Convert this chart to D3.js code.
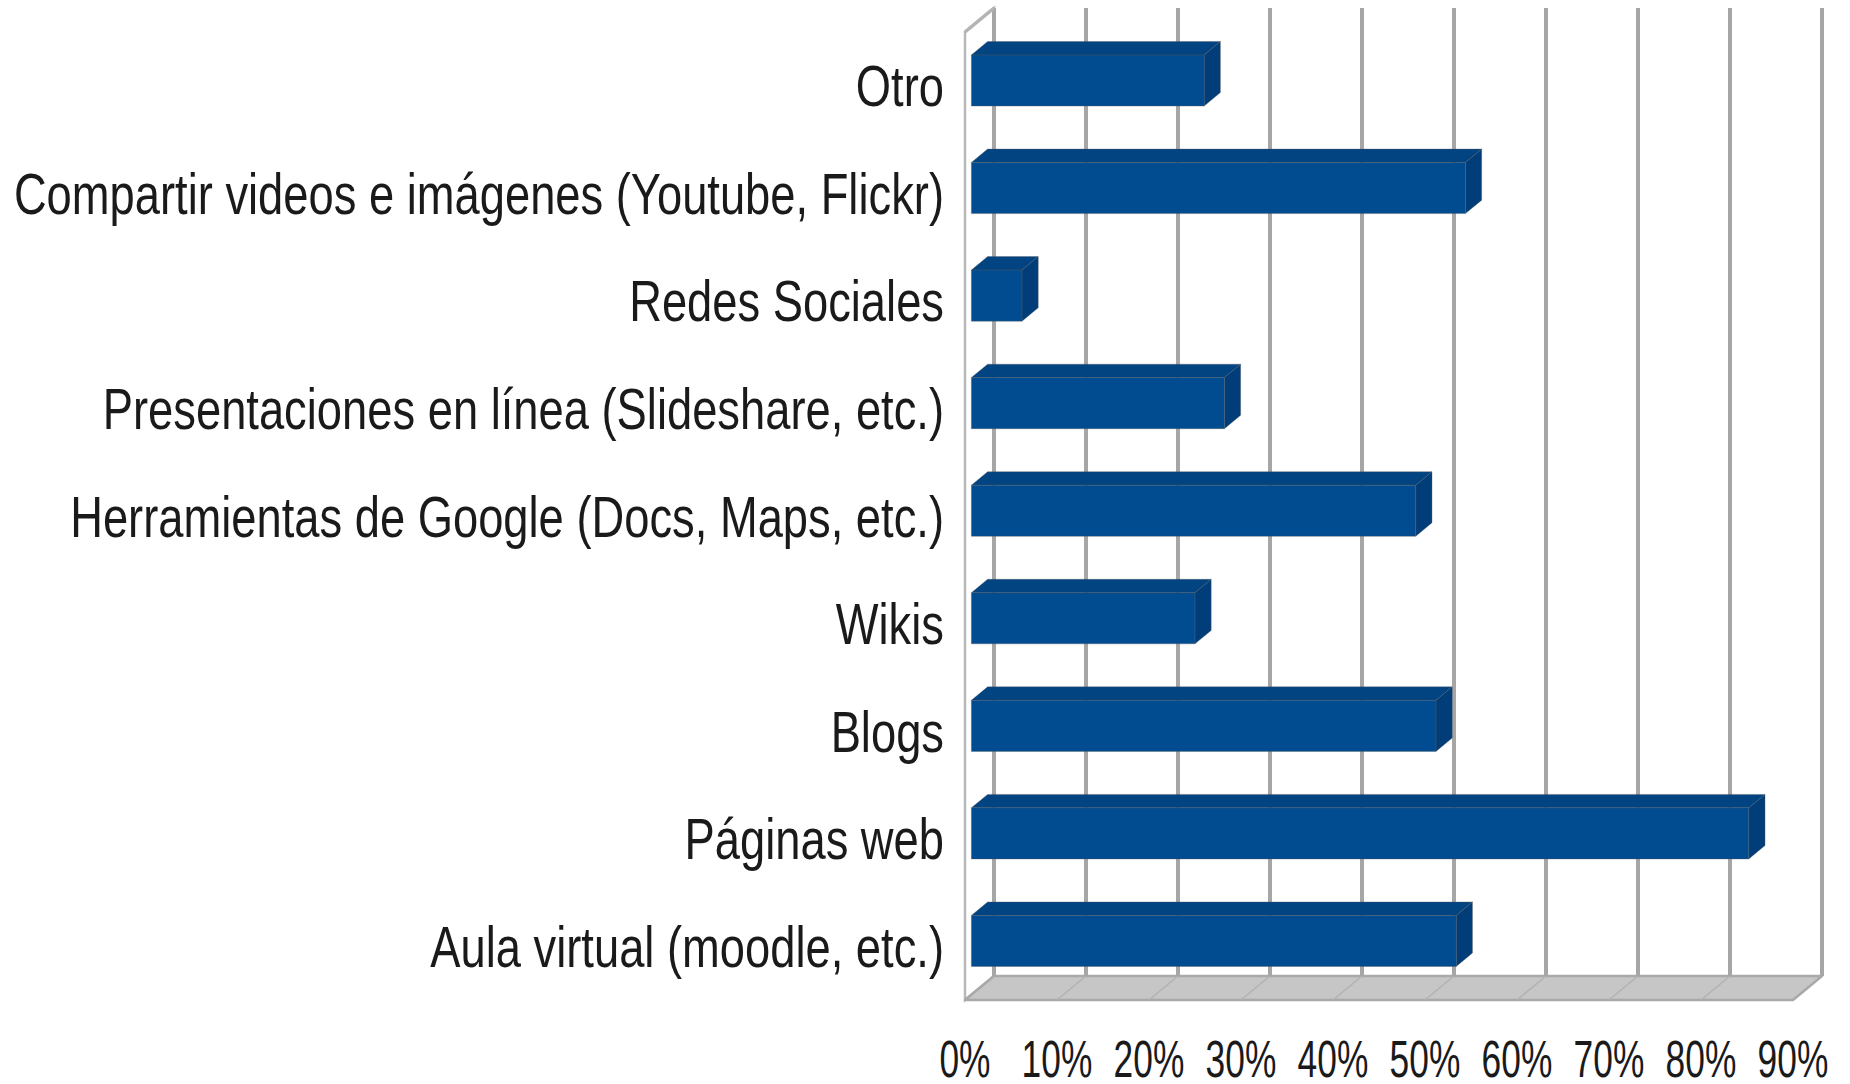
<!DOCTYPE html>
<meta charset="utf-8">
<title>Herramientas web</title>
<style>
body { margin: 0; background: #fff; }
svg { display: block; }
text { font-family: "Liberation Sans", Arial, sans-serif; fill: #1a1a1a; }
</style>
<body>
<svg></svg>
<script src="https://d3js.org/d3.v7.min.js"></script>
<script>

// categories from bottom to top, as in the original sheet
var categories = [
    "Aula virtual (moodle, etc.)",
    "Páginas web",
    "Blogs",
    "Wikis",
    "Herramientas de Google (Docs, Maps, etc.)",
    "Presentaciones en línea (Slideshare, etc.)",
    "Redes Sociales",
    "Compartir videos e imágenes (Youtube, Flickr)",
    "Otro"
];
var values = [0.527, 0.845, 0.505, 0.243, 0.483, 0.275, 0.055, 0.537, 0.253];
var tickValues = [0, 0.1, 0.2, 0.3, 0.4, 0.5, 0.6, 0.7, 0.8, 0.9];

var width = 1850,
    height = 1084;

var svg = d3.select("svg").attr("width", width).attr("height", height);

// front plane of the 3d box
var xLeft = 965, yTop = 32, yBot = 1000,
    DX = 29, DY = 24;   // depth offset

var x = d3.scaleLinear().domain([0, 0.9]).range([xLeft, xLeft + 828]);
var y = d3.scaleBand()
    .domain(categories.slice().reverse())
    .range([yTop, yBot])
    .paddingInner(0).paddingOuter(0);

function P(v, yy, z) {
    return [x(v) + z * DX, yy - z * DY];
}
function poly(pts) { return pts.map(p => p.join(",")).join(" "); }

// back wall + gridlines
var walls = svg.append("g");
walls.append("polygon")
    .attr("points", poly([P(0, yTop, 1), P(0.9, yTop, 1), P(0.9, yBot, 1), P(0, yBot, 1)]))
    .attr("fill", "#fff");

// left wall
walls.append("polygon")
    .attr("points", poly([P(0, yTop, 0), P(0, yTop, 1), P(0, yBot, 1), P(0, yBot, 0)]))
    .attr("fill", "#fff")
    .attr("stroke", "#b8b8b8")
    .attr("stroke-width", 2.5);

// floor
walls.append("polygon")
    .attr("points", poly([P(0, yBot, 0), P(0, yBot, 1), P(0.9, yBot, 1), P(0.9, yBot, 0)]))
    .attr("fill", "#c6c6c6")
    .attr("stroke", "#a9a9a9")
    .attr("stroke-width", 2.5)
    .attr("stroke-linejoin", "round");

walls.selectAll("line.floorgrid")
    .data(tickValues.slice(1, -1))
    .enter().append("line")
    .attr("class", "floorgrid")
    .attr("x1", d => P(d, yBot, 0)[0]).attr("y1", d => P(d, yBot, 0)[1])
    .attr("x2", d => P(d, yBot, 1)[0]).attr("y2", d => P(d, yBot, 1)[1])
    .attr("stroke", "#b2b2b2")
    .attr("stroke-width", 1.5);

walls.selectAll("line.grid")
    .data(tickValues)
    .enter().append("line")
    .attr("class", "grid")
    .attr("x1", d => P(d, yTop, 1)[0]).attr("y1", d => P(d, yTop, 1)[1])
    .attr("x2", d => P(d, yBot, 1)[0]).attr("y2", d => P(d, yBot, 1)[1])
    .attr("stroke", "#a6a6a6")
    .attr("stroke-width", 4);

// top edge of the left wall
walls.append("line")
    .attr("x1", P(0, yTop, 0)[0]).attr("y1", P(0, yTop, 0)[1])
    .attr("x2", P(0, yTop, 1)[0]).attr("y2", P(0, yTop, 1)[1])
    .attr("stroke", "#b4b4b4")
    .attr("stroke-width", 3.5);

// bars
var z0 = 0.22, z1 = 0.78, barFrac = 0.475;
var bars = svg.append("g");

var bar = bars.selectAll("g.bar")
    .data(categories.map((c, i) => ({cat: c, v: values[i]})))
    .enter().append("g")
    .attr("class", "bar");

function barBox(d) {
    var bw = y.bandwidth(),
        c = y(d.cat) + bw / 2,
        t = c - bw * barFrac / 2,
        b = c + bw * barFrac / 2;
    return {t: t, b: b};
}

// top face
bar.append("polygon")
    .attr("points", d => {
        var o = barBox(d);
        return poly([P(0, o.t, z0), P(0, o.t, z1), P(d.v, o.t, z1), P(d.v, o.t, z0)]);
    })
    .attr("fill", "#024382")
    .attr("stroke", "rgba(90,90,90,0.35)")
    .attr("stroke-width", 1);

// side face
bar.append("polygon")
    .attr("points", d => {
        var o = barBox(d);
        return poly([P(d.v, o.t, z0), P(d.v, o.t, z1), P(d.v, o.b, z1), P(d.v, o.b, z0)]);
    })
    .attr("fill", "#003d79")
    .attr("stroke", "rgba(90,90,90,0.35)")
    .attr("stroke-width", 1);

// front face
bar.append("polygon")
    .attr("points", d => {
        var o = barBox(d);
        return poly([P(0, o.t, z0), P(d.v, o.t, z0), P(d.v, o.b, z0), P(0, o.b, z0)]);
    })
    .attr("fill", "#014c90")
    .attr("stroke", "rgba(90,90,90,0.35)")
    .attr("stroke-width", 1);

// category labels
svg.append("g")
    .selectAll("text")
    .data(categories)
    .enter().append("text")
    .attr("transform", d => "translate(944," + (y(d) + y.bandwidth() / 2 + 20.5) + ") scale(0.795,1)")
    .attr("text-anchor", "end")
    .style("font-size", "57px")
    .text(d => d);

// value axis labels
var fmt = d3.format(".0%");
svg.append("g")
    .selectAll("text")
    .data(tickValues)
    .enter().append("text")
    .attr("transform", d => "translate(" + x(d) + ",1077) scale(0.68,1)")
    .attr("text-anchor", "middle")
    .style("font-size", "52px")
    .text(d => fmt(d));

</script>
</body>
